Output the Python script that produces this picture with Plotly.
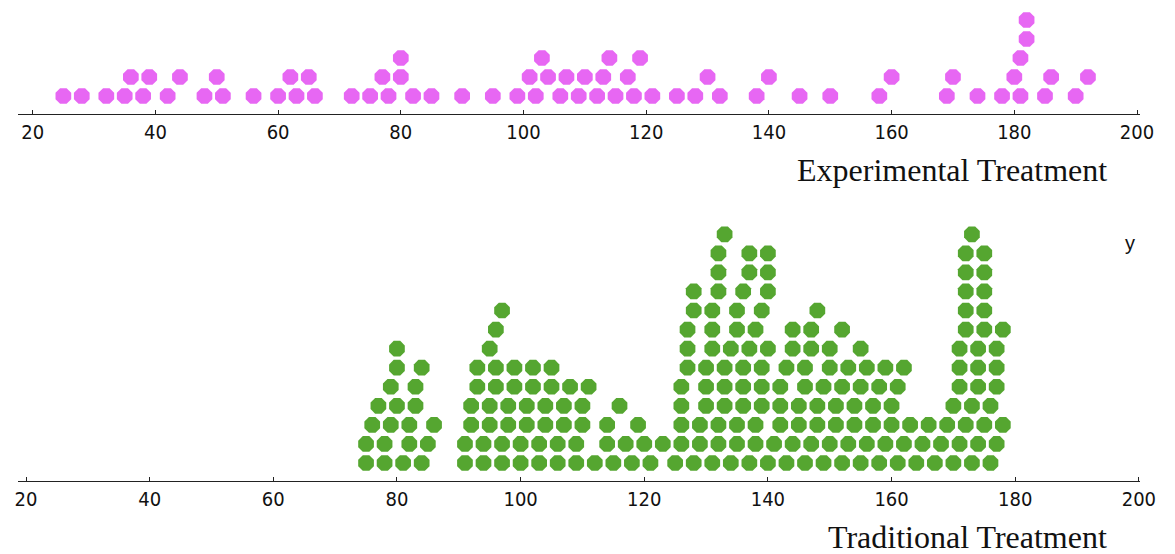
import plotly.graph_objects as go

# ---------------- data ----------------
experimental = [25, 28, 32, 35, 36, 38, 39, 42, 44, 48, 50, 51, 56, 60, 62, 63, 65, 66,
                72, 75, 77, 78, 80, 80, 82, 85, 90, 95, 99, 101, 102, 103, 104, 106, 107,
                109, 110, 112, 113, 114, 115, 117, 118, 119, 121, 125, 128, 130, 132,
                138, 140, 145, 150, 158, 160, 169, 170, 174, 178, 180, 181, 181, 182,
                182, 185, 186, 190, 192]

# traditional treatment: value -> how many patients (read from the dot stacks)
trad_counts = {
    75: 2, 76: 1, 77: 1, 78: 2, 79: 2, 80: 3, 81: 1, 82: 2, 83: 2, 84: 2, 85: 1, 86: 1,
    91: 2, 92: 2, 93: 2, 94: 2, 95: 3, 96: 3, 97: 3, 98: 2, 99: 2, 100: 2, 101: 2,
    102: 2, 103: 2, 104: 2, 105: 2, 106: 2, 107: 2, 108: 1, 109: 2, 110: 2, 111: 1,
    112: 1, 114: 2, 115: 1, 116: 1, 117: 1, 118: 1, 119: 1, 120: 1, 121: 1, 123: 1,
    125: 1, 126: 4, 127: 3, 128: 3, 129: 2, 130: 3, 131: 4, 132: 5, 133: 4, 134: 2,
    135: 4, 136: 4, 137: 4, 138: 3, 139: 4, 140: 5, 141: 1, 142: 3, 143: 2, 144: 3,
    145: 2, 146: 3, 147: 3, 148: 3, 149: 2, 150: 3, 151: 2, 152: 3, 153: 2, 154: 2,
    155: 3, 156: 2, 157: 2, 158: 2, 159: 2, 160: 2, 161: 2, 162: 2, 163: 1, 164: 1,
    165: 1, 166: 1, 167: 1, 168: 1, 169: 1, 170: 2, 171: 4, 172: 6, 173: 3, 174: 4,
    175: 6, 176: 2, 177: 4, 178: 2,
}
traditional = [v for v, n in trad_counts.items() for _ in range(n)]

tick_vals = [20, 40, 60, 80, 100, 120, 140, 160, 180, 200]
top_label = "Experimental Treatment"
bottom_label = "Traditional Treatment"

MAGENTA = "#E767F3"
GREEN = "#55A630"


def stack_dots(values, gap=2.5):
    """Dot-plot stacking: each value (in ascending order) goes to the lowest
    row where it does not collide with a dot already placed there."""
    rows_last = []
    xs, ys = [], []
    for v in sorted(values):
        r = 0
        while r < len(rows_last) and abs(v - rows_last[r]) < gap:
            r += 1
        if r == len(rows_last):
            rows_last.append(v)
        else:
            rows_last[r] = v
        xs.append(v)
        ys.append(r)
    return xs, ys


ex_x, ex_r = stack_dots(experimental)
tr_x, tr_r = stack_dots(traditional)

PAGE_W, PAGE_H = 1175, 554
# the renderer draws the figure 16px narrower than the layout width asks for
W, H = PAGE_W + 16, PAGE_H
ROW_TOP = 19.0
ROW_BOT = 19.06


def px(x):
    return x / PAGE_W


def py(y):
    return 1 - y / PAGE_H


fig = go.Figure()
fig.add_trace(go.Scatter(
    x=ex_x, y=[r + 18 / ROW_TOP for r in ex_r], mode="markers",
    marker=dict(symbol="octagon", size=17, color=MAGENTA, line=dict(width=0)),
    xaxis="x", yaxis="y", hoverinfo="x", showlegend=False))
fig.add_trace(go.Scatter(
    x=tr_x, y=[r + 18 / ROW_BOT for r in tr_r], mode="markers",
    marker=dict(symbol="octagon", size=17, color=GREEN, line=dict(width=0)),
    xaxis="x2", yaxis="y2", hoverinfo="x", showlegend=False))

tickfont = dict(family="Liberation Sans Narrow, DejaVu Sans Condensed, Arial Narrow, sans-serif",
                size=20, color="#111")
common_x = dict(domain=[px(15), px(1140)], showgrid=False, zeroline=False, showline=True,
                linecolor="#222", linewidth=1.3, ticks="inside", ticklen=4,
                tickcolor="#222", tickvals=tick_vals, tickfont=tickfont,
                fixedrange=True)

title_font = dict(family="Liberation Serif, Times New Roman, serif", size=32, color="#111")

fig.update_layout(
    width=W, height=H, margin=dict(l=0, r=0, t=0, b=0),
    paper_bgcolor="white", plot_bgcolor="white",
    xaxis=dict(common_x, range=[17.6, 200.5], anchor="y"),
    xaxis2=dict(common_x, range=[18.7, 200.2], anchor="y2"),
    yaxis=dict(domain=[py(114), 1], range=[0, 114 / ROW_TOP], visible=False,
               fixedrange=True),
    yaxis2=dict(domain=[py(481), py(220)], range=[0, 261 / ROW_BOT],
                visible=False, fixedrange=True),
    annotations=[
        dict(text=top_label, x=px(1109), y=py(170), xref="paper", yref="paper",
             xanchor="right", yanchor="middle", showarrow=False, font=title_font),
        dict(text=bottom_label, x=px(1109), y=py(537), xref="paper", yref="paper",
             xanchor="right", yanchor="middle", showarrow=False, font=title_font),
        dict(text="y", x=px(1130), y=py(243), xref="paper", yref="paper",
             xanchor="center", yanchor="middle", showarrow=False,
             font=dict(family="Liberation Sans, Arial, sans-serif", size=20,
                       color="#111")),
    ],
)

fig.write_html(
    "out.html",
    config={"responsive": False, "displayModeBar": False},
    post_script="document.body.style.margin='0';"
                "document.body.style.overflow='hidden';"
                "document.documentElement.style.overflow='hidden';",
)
